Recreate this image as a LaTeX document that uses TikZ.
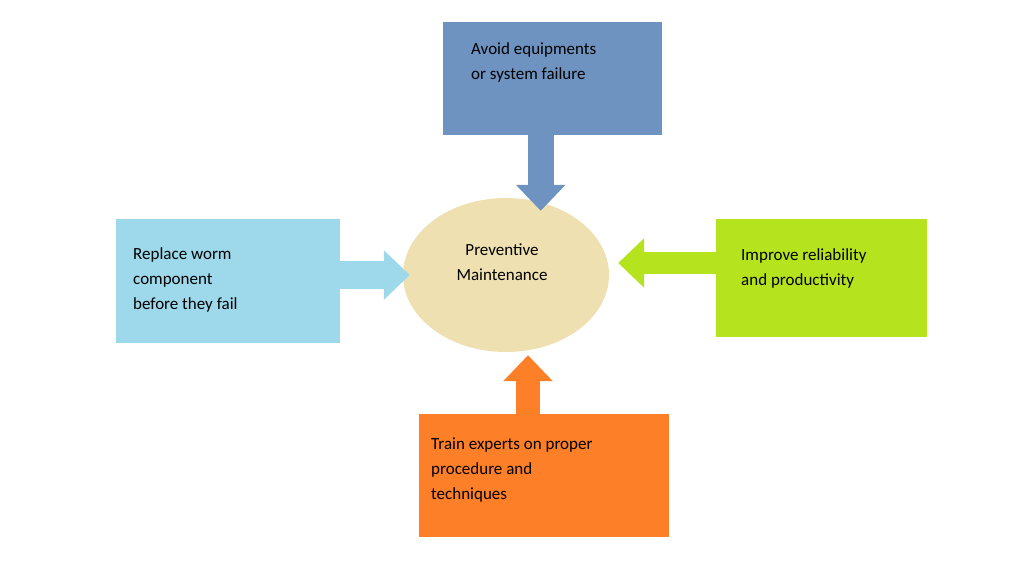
\documentclass[tikz,border=0pt]{standalone}
\usepackage{fontspec}
\setmainfont{Carlito}
\usetikzlibrary{positioning,arrows.meta,shapes.geometric}
\definecolor{topblue}{HTML}{6E93C0}
\definecolor{sideblue}{HTML}{9DD9EA}
\definecolor{limegreen}{HTML}{B5E41E}
\definecolor{deeporange}{HTML}{FD7F28}
\definecolor{paleyellow}{HTML}{EEE0B0}
\begin{document}
\begin{tikzpicture}[x=1pt,y=-1pt,
                    boxnode/.style={rectangle, anchor=north west, inner sep=0pt},
                    textnode/.style={anchor=north west, align=left, font=\fontsize{17}{25}\selectfont, inner sep=0pt},
                    bigarrow/.style={line width=#1, -{Triangle[length=26pt, width=48pt]}}]
                    \useasboundingbox[fill=white] (0,0) rectangle (1024,576);
                    \node[boxnode, fill=topblue, minimum width=219pt, minimum height=113pt] (top) at (443,22) {};
                    \node[boxnode, fill=sideblue, minimum width=224pt, minimum height=124pt] (left) at (116,219) {};
                    \node[boxnode, fill=limegreen, minimum width=211pt, minimum height=118pt] (right) at (716,219) {};
                    \node[boxnode, fill=deeporange, minimum width=250pt, minimum height=123pt] (bottom) at (419,414) {};
                    \node[ellipse, fill=paleyellow, minimum width=206pt, minimum height=154pt, inner sep=0pt] (pm) at (506,275) {};
                    \node[textnode] (toptext) at (471,42) {Avoid equipments\\or system failure};
                    \node[textnode] (lefttext) at (133,247) {Replace worm\\component\\before they fail};
                    \node[textnode] (righttext) at (741,248) {Improve reliability\\and productivity};
                    \node[textnode] (bottomtext) at (431,438) {Train experts on proper\\procedure and\\techniques};
                    \node[align=center, font=\fontsize{17}{25}\selectfont, inner sep=0pt] (pmtext) at (502,262) {Preventive\\Maintenance};
                    \draw[bigarrow=26pt, topblue, shorten >=-13pt] ([xshift=-12pt]top.south) -- ([xshift=-12pt]top.south |- pm.north);
                    \draw[bigarrow=28pt, sideblue, shorten >=-7pt] (left.east |- pm.west) -- (pm.west);
                    \draw[bigarrow=22pt, limegreen, shorten >=9pt] ([yshift=12pt]right.west |- pm.east) -- ([yshift=12pt]pm.east);
                    \draw[bigarrow=24pt, deeporange, shorten >=3pt] ([xshift=22pt]pm.south |- bottom.north) -- ([xshift=22pt]pm.south);
                \end{tikzpicture}
\end{document}
